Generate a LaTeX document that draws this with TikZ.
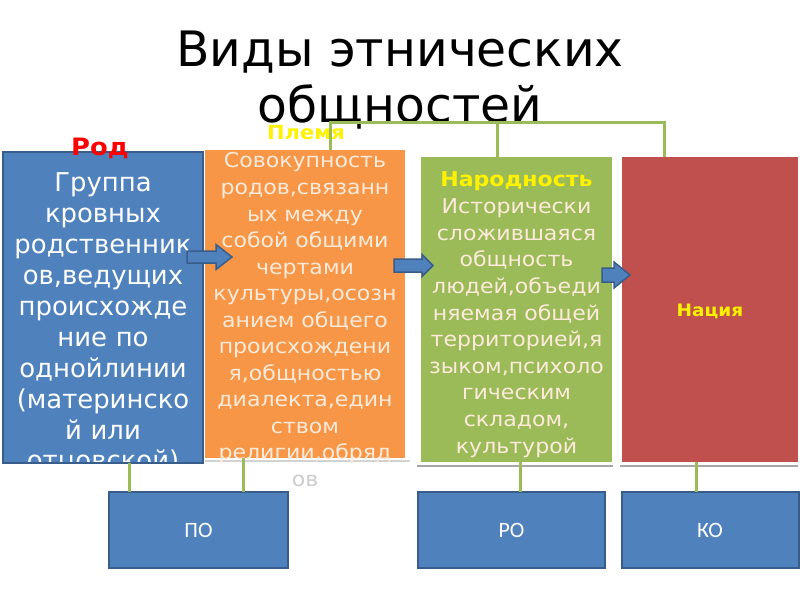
\documentclass[tikz,border=0pt]{standalone}
\usepackage{fontspec}
\setmainfont{DejaVu Sans}
\newfontfamily\boxfont[FakeStretch=1.08]{DejaVu Sans}
\newfontfamily\codefont{Carlito}
\definecolor{rodblue}{HTML}{4F81BD}
\definecolor{rodedge}{HTML}{385D8A}
\definecolor{tribeorange}{HTML}{F79646}
\definecolor{peoplegreen}{HTML}{9BBB59}
\definecolor{nationred}{HTML}{C0504D}
\definecolor{cream}{HTML}{FDEADA}
\tikzset{
  kind/.style={inner sep=0pt, outer sep=0pt},
  kindtext/.style={inner sep=0pt, align=center, text width=#1, anchor=base},
  link/.style={draw=peoplegreen, line width=3bp},
  shadowline/.style={draw=gray!70, line width=2bp},
  blockarrow/.style={fill=rodblue, draw=rodedge, line width=1.5bp, line join=miter},
  abbrev/.style={kind, fill=rodblue, draw=rodedge, line width=2bp, minimum height=76bp,
    text=white, font=\codefont\fontsize{22}{26}\selectfont}
}
\begin{document}
\begin{tikzpicture}[x=1bp,y=-1bp]
    \useasboundingbox (0,0) rectangle (800,600);
    \fill[white] (0,0) rectangle (800,600);
    \node[anchor=base, align=center, font=\fontsize{49}{57}\selectfont] (title) at (400,123) {Виды этнических\\общностей};
    % boxes
    \node[kind, fill=rodblue, draw=rodedge, line width=2bp, minimum width=200bp, minimum height=311bp] (rod) at (103,307.5) {};
    \node[kind, fill=tribeorange, minimum width=200bp, minimum height=308bp] (tribe) at (305,304) {};
    \node[kind, fill=peoplegreen, minimum width=191bp, minimum height=305bp] (people) at (516.5,309.5) {};
    \node[kind, fill=nationred, minimum width=176bp, minimum height=305bp] (nation) at (710,309.5) {};
    \draw[shadowline, gray!35] ([yshift=-3bp]tribe.south west) -- ([shift={(5bp,-3bp)}]tribe.south east);
    \draw[shadowline] ([shift={(-4bp,-4bp)}]people.south west) -- ([shift={(1bp,-4bp)}]people.south east);
    \draw[shadowline] ([shift={(-2bp,-4bp)}]nation.south west) -- ([yshift=-4bp]nation.south east);
    % labels
    \node[anchor=base, text=red, font=\boxfont\bfseries\fontsize{24}{28}\selectfont] (rodname) at (100,156) {Род};
    \node[anchor=base, text=yellow, font=\boxfont\bfseries\fontsize{19.5}{24}\selectfont] (tribename) at (306,140) {Племя};
    \node[anchor=base, text=yellow, font=\boxfont\bfseries\fontsize{17.2}{20}\selectfont] (nationname) at (710,316) {Нация};
    \node[kindtext=200bp, text=white, font=\fontsize{26}{31}\selectfont] (rodtext) at (103,192)
        {Группа\\кровных\\родственник\\ов,ведущих\\происхожде\\ние по\\однойлинии\\(материнско\\й или\\отцовской)};
    \draw[draw=rodedge, line width=2bp] (rod.south west) -- (rod.south east);
    \node[kindtext=200bp, text=cream, font=\boxfont\fontsize{20.5}{26.6}\selectfont] (tribetext) at (305,168)
        {Совокупность\\родов,связанн\\ых между\\собой общими\\чертами\\культуры,осозн\\анием общего\\происхождени\\я,общностью\\диалекта,един\\ством\\религии,обряд\\\textcolor{gray!40}{ов}};
    \node[kindtext=191bp, text=cream, font=\boxfont\fontsize{20.5}{26.7}\selectfont] (peopletext) at (516.5,187)
        {\textcolor{yellow}{\bfseries Народность}\\Исторически\\сложившаяся\\общность\\людей,объеди\\няемая общей\\территорией,я\\зыком,психоло\\гическим\\складом,\\культурой};
    % arrows
    \foreach \xa/\xb/\yc/\bh/\hh/\hl in {187/232/257/6/12.5/16, 394/433/265.5/6.5/11/11, 602/630/275/7/13/16}
        {\draw[blockarrow] (\xa,\yc-\bh) -- (\xb-\hl,\yc-\bh) -- (\xb-\hl,\yc-\hh) -- (\xb,\yc)
            -- (\xb-\hl,\yc+\hh) -- (\xb-\hl,\yc+\bh) -- (\xa,\yc+\bh) -- cycle;
        }
    % bottom boxes
    \node[abbrev, minimum width=179bp] (po) at (198.5,530) {ПО};
    \node[abbrev, minimum width=187bp] (ro) at (511.5,530) {РО};
    \node[abbrev, minimum width=177bp] (ko) at (710,530) {КО};
    % connectors
    \draw[link] ([xshift=25bp]tribe.north) -- ++(0,-27) -| ([xshift=-46bp]nation.north);
    \draw[link] ([xshift=-19.5bp]people.north) -- ++(0,-34);
    \foreach \src/\shift/\dst in {rod/26/po, tribe/-62/po, people/3.5/ro, nation/-14/ko}
        {\draw[link] ([xshift=\shift bp]\src.south) -- ([xshift=\shift bp]\src.south |- \dst.north);
        }
\end{tikzpicture}
\end{document}
